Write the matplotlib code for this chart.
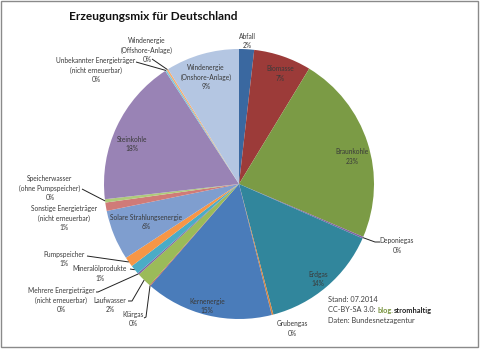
from matplotlib import pyplot as plt
from matplotlib.patches import Rectangle
import numpy as np

plt.rcParams['font.family'] = ['Lato', 'DejaVu Sans']

# Data (share of generation capacity, %), clockwise from 12 o'clock
categories = [
    'Abfall', 'Biomasse', 'Braunkohle', 'Deponiegas', 'Erdgas', 'Grubengas',
    'Kernenergie', 'Klärgas', 'Laufwasser',
    'Mehrere Energieträger\n(nicht erneuerbar)', 'Mineralölprodukte',
    'Pumpspeicher', 'Solare Strahlungsenergie',
    'Sonstige Energieträger\n(nicht erneuerbar)',
    'Speicherwasser\n(ohne Pumpspeicher)', 'Steinkohle',
    'Unbekannter Energieträger\n(nicht erneuerbar)',
    'Windenergie\n(Offshore-Anlage)', 'Windenergie\n(Onshore-Anlage)',
]
values = [1.8, 6.9, 22.7, 0.2, 14.3, 0.2, 15.3, 0.1, 1.8, 0.2, 1.1, 1.2,
          6.0, 1.0, 0.4, 17.6, 0.2, 0.2, 8.8]
pct_labels = ['2%', '7%', '23%', '0%', '14%', '0%', '15%', '0%', '2%', '0%',
              '1%', '1%', '6%', '1%', '0%', '18%', '0%', '0%', '9%']

colors = ['#3A68A0', '#9C3B39', '#7B9B45', '#7E62A0', '#31869C', '#D5823D',
          '#4A7CBA', '#C0504D', '#9BBB59', '#8064A2', '#4BACC6', '#F79646',
          '#7F9ECF', '#D07B78', '#AFCB7A', '#9983B5', '#80C6DA', '#F9AB6B',
          '#B4C6E2']

# label block centres in pixels (x, y from top) and leader bend points
label_pos = [(247, 41), (280, 73.5), (352, 156.5), (397, 245.5), (318, 279),
             (292, 328.5), (207, 306), (133, 319), (110, 305), (61, 300),
             (100, 273.5), (64, 259), (146, 222), (64, 218), (50, 188),
             (132, 144), (96, 70), (147, 50), (206, 77)]
leaders = {3: [(375, 242), (380, 242)], 7: [(146, 317), (144, 318)],
           8: [(132, 301), (128, 301)], 9: [(98, 292), (96, 292)],
           10: [(130, 269)], 11: [(87, 256)], 14: [(82, 189)],
           16: [(136, 62)], 17: [(152, 59)]}

W, H = 480, 349
cx, cy, R = 239, 184, 135


def P(x, y):
    return x, H - y


fig = plt.figure(figsize=(4.8, 3.49), dpi=100)
ax = fig.add_axes([0, 0, 1, 1])
wedges, _ = ax.pie(values, colors=colors, startangle=90, counterclock=False,
                   center=P(cx, cy), radius=R, wedgeprops=dict(linewidth=0))
ax.set_xlim(0, W)
ax.set_ylim(0, H)
ax.set_aspect('equal')
ax.axis('off')

txt = '#3a3a3a'
for i, w in enumerate(wedges):
    lx, ly = P(*label_pos[i])
    ax.text(lx, ly, categories[i] + '\n' + pct_labels[i], ha='center',
            va='center', fontsize=4.8, color=txt, linespacing=1.35)
    if i in leaders:
        ang = np.deg2rad((w.theta1 + w.theta2) / 2)
        sx = w.center[0] + R * np.cos(ang)
        sy = w.center[1] + R * np.sin(ang)
        pts = [(sx, sy)] + [P(*p) for p in leaders[i]]
        xs, ys = zip(*pts)
        ax.plot(xs, ys, color='#222222', lw=0.7, solid_capstyle='butt')

ax.text(*P(153, 17), 'Erzeugungsmix für Deutschland', ha='center',
        va='center', fontsize=8.6, fontweight='bold', color='#111111')

fs = 5.3
ax.text(*P(328, 300), 'Stand: 07.2014', fontsize=fs, color='#404040',
        va='center')
t1 = ax.text(*P(328, 310), 'CC-BY-SA 3.0: ', fontsize=fs, color='#404040',
             va='center')
t2 = ax.annotate('blog.', xy=(1, 0), xycoords=t1, va='bottom', fontsize=fs,
                 color='#77933C', fontweight='bold')
ax.annotate('stromhaltig', xy=(1, 0), xycoords=t2, va='bottom', fontsize=fs,
            color='#222222', fontweight='bold')
ax.text(*P(328, 320), 'Daten: Bundesnetzagentur', fontsize=fs,
        color='#404040', va='center')

ax.add_patch(Rectangle((1, 2), W - 3, H - 3, fill=False, edgecolor='#8a8a8a',
                       lw=1, clip_on=False))

fig.savefig('out.png', dpi=100, facecolor='white')
